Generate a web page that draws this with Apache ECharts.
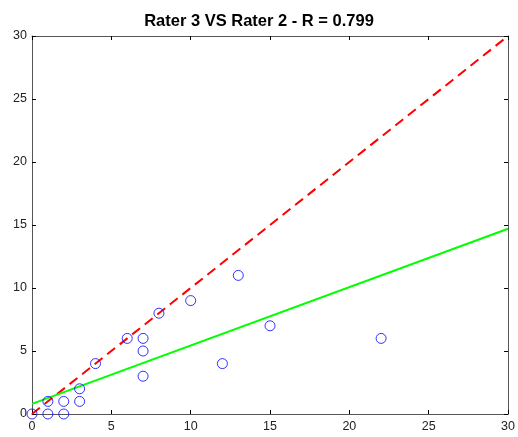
<!DOCTYPE html>
<html>
<head>
<meta charset="utf-8">
<script src="https://cdn.jsdelivr.net/npm/echarts@6/dist/echarts.min.js"></script>
<style>
  html, body { margin: 0; padding: 0; background: #ffffff; }
  #chart { width: 518px; height: 437px; }
</style>
</head>
<body>
<div id="chart"></div>
<script>
// Rater 2 scores (x) against Rater 3 scores (y)
const rater2 = [0, 1, 1, 2, 2, 3, 3, 4, 6, 7, 7, 7, 8, 10, 12, 13, 15, 22];
const rater3 = [0, 1, 0, 1, 0, 2, 1, 4, 6, 6, 5, 3, 8, 9, 4, 11, 7, 6];

// Identity line (perfect agreement) and least-squares fit, given by their end points
const identityX = [0, 30];
const identityY = [0, 30];
const fitX = [0, 30];
const fitY = [0.8, 14.7];

const axisTicks = [0, 5, 10, 15, 20, 25, 30];

const points = rater2.map((x, i) => [x, rater3[i]]);
const identity = identityX.map((x, i) => [x, identityY[i]]);
const fit = fitX.map((x, i) => [x, fitY[i]]);

const frameColor = '#555555';
const labelFont = { color: '#222222', fontSize: 12.5, fontFamily: 'Liberation Sans, Arial, sans-serif' };

const baseAxis = {
  type: 'value',
  min: axisTicks[0],
  max: axisTicks[axisTicks.length - 1],
  interval: 5,
  splitLine: { show: false },
  axisLine: { show: true, onZero: false, lineStyle: { color: frameColor, width: 1 } },
  axisTick: { show: true, inside: true, length: 4, lineStyle: { color: '#000000' } }
};

const chart = echarts.init(document.getElementById('chart'), null, { renderer: 'canvas' });
chart.setOption({
  backgroundColor: '#ffffff',
  animation: false,
  title: {
    text: 'Rater 3 VS Rater 2 - R = 0.799',
    left: 'center',
    top: 8,
    textStyle: { fontSize: 16.5, fontWeight: 'bold', color: '#000000', fontFamily: 'Liberation Sans, Arial, sans-serif' }
  },
  grid: { left: 32, right: 9, top: 36, bottom: 23 },
  xAxis: [
    Object.assign({}, baseAxis, {
      position: 'bottom',
      axisLabel: Object.assign({ margin: 6 }, labelFont)
    }),
    Object.assign({}, baseAxis, {
      position: 'top',
      axisLabel: { show: false }
    })
  ],
  yAxis: [
    Object.assign({}, baseAxis, {
      position: 'left',
      axisLabel: Object.assign({ margin: 5 }, labelFont)
    }),
    Object.assign({}, baseAxis, {
      position: 'right',
      axisLabel: { show: false }
    })
  ],
  series: [
    {
      type: 'line',
      data: identity,
      symbol: 'none',
      lineStyle: { color: '#ff0000', width: 2, type: [10, 6] },
      z: 2
    },
    {
      type: 'line',
      data: fit,
      symbol: 'none',
      lineStyle: { color: '#00ff00', width: 2 },
      z: 3
    },
    {
      type: 'scatter',
      data: points,
      symbol: 'circle',
      symbolSize: 10,
      itemStyle: { color: 'transparent', borderColor: '#0000ff', borderWidth: 1 },
      z: 4
    }
  ]
});
</script>
</body>
</html>
